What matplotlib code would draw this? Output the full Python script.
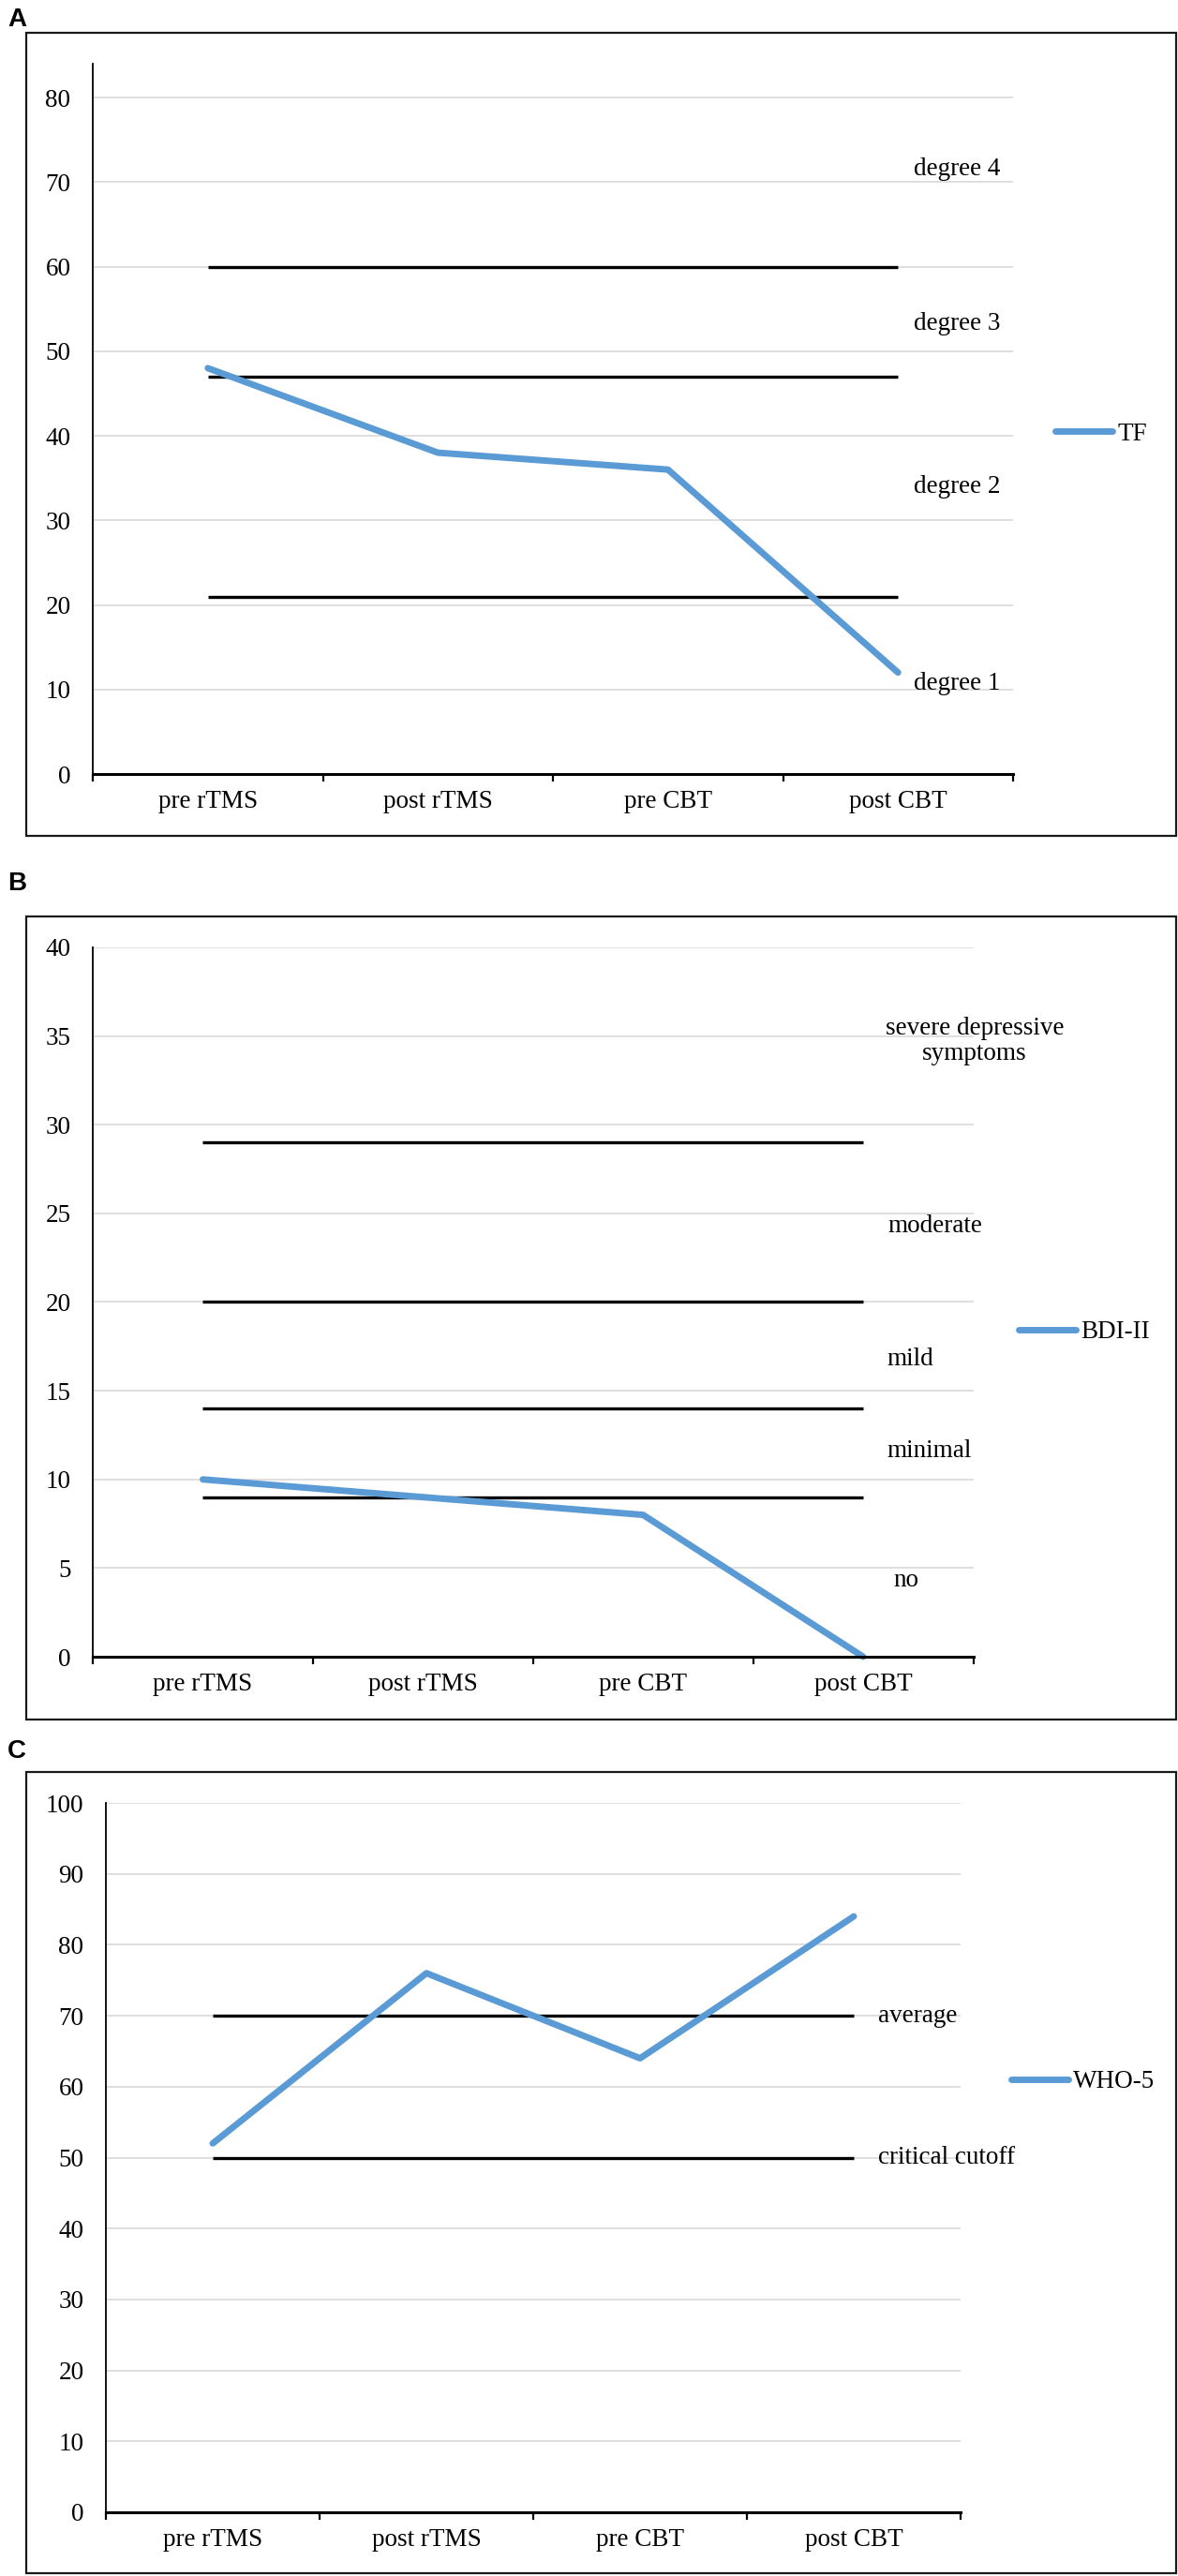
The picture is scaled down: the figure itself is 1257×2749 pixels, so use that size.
import numpy as np
import matplotlib
matplotlib.use("Agg")
import matplotlib.pyplot as plt
from matplotlib.patches import Rectangle

# ---------------- data ----------------
categories = ["pre rTMS", "post rTMS", "pre CBT", "post CBT"]

tf_values = [48, 38, 36, 12]
tf_thresholds = [60, 47, 21]
tf_band_labels = ["degree 4", "degree 3", "degree 2", "degree 1"]
tf_band_label_y = [71.5, 53.3, 34, 10.7]
tf_yticks = [0, 10, 20, 30, 40, 50, 60, 70, 80]

bdi_values = [10, 9, 8, 0]
bdi_thresholds = [29, 20, 14, 9]
bdi_band_labels = ["severe depressive\nsymptoms", "moderate", "mild", "minimal", "no"]
bdi_band_label_y = [34.7, 24.3, 16.8, 11.6, 4.3]
bdi_yticks = [0, 5, 10, 15, 20, 25, 30, 35, 40]

who_values = [52, 76, 64, 84]
who_thresholds = [70, 50]
who_band_labels = ["average", "critical cutoff"]
who_band_label_y = [70, 50]
who_yticks = [0, 10, 20, 30, 40, 50, 60, 70, 80, 90, 100]

# ---------------- style ----------------
W, H = 1257, 2749
DPI = 100
SERIF = ["Liberation Serif", "DejaVu Serif"]
FS = 19.5
BLUE = "#5b9bd5"
GRID = "#d9d9d9"

fig = plt.figure(figsize=(W / DPI, H / DPI), dpi=DPI)


def fx(px):
    return px / W


def fy(py):
    return 1 - py / H


def panel(letter, letter_top, box, axrect, ylim, yticks, values, thresholds,
          band_labels, band_y, label_specs, legend_name, legend_xy):
    # outer frame
    bx0, by0, bx1, by1 = box
    fig.patches.append(Rectangle((fx(bx0), fy(by1)), fx(bx1) - fx(bx0), fy(by0) - fy(by1),
                                 transform=fig.transFigure, fill=False,
                                 edgecolor="#1a1a1a", linewidth=1.6, zorder=0))
    fig.text(fx(8), fy(letter_top), letter, ha="left", va="top",
             fontsize=20, fontweight="bold", family=["Liberation Sans", "DejaVu Sans"])

    l, r, t, b = axrect
    ax = fig.add_axes([fx(l), fy(b), fx(r) - fx(l), fy(t) - fy(b)])
    x = np.arange(len(categories))
    ax.set_xlim(x[0] - 0.5, x[-1] + 0.5)
    ax.set_ylim(*ylim)

    ax.set_yticks(yticks)
    ax.set_yticklabels([str(v) for v in yticks], family=SERIF, fontsize=FS)
    ax.tick_params(axis="y", length=0, pad=17)
    ax.yaxis.grid(True, color=GRID, linewidth=1.2)
    ax.set_axisbelow(True)

    ax.set_xticks(np.append(x, x[-1] + 1) - 0.5)
    ax.set_xticklabels([])
    ax.set_xticks(x, minor=True)
    ax.set_xticklabels(categories, minor=True, family=SERIF, fontsize=FS)
    ax.tick_params(axis="x", which="major", length=6, width=1.6, direction="out", color="black")
    ax.tick_params(axis="x", which="minor", length=0, pad=12)

    for s in ["top", "right"]:
        ax.spines[s].set_visible(False)
    ax.spines["left"].set_linewidth(1.3)
    ax.spines["bottom"].set_linewidth(2.2)
    ax.spines["bottom"].set_zorder(5)

    ax.hlines(thresholds, x[0], x[-1], colors="black", linewidth=2.4, zorder=3)
    ax.plot(x, values, color=BLUE, linewidth=5, solid_capstyle="round",
            solid_joinstyle="round", label=legend_name, zorder=4, clip_on=False)

    for txt, yv, (lx, ha) in zip(band_labels, band_y, label_specs):
        xd = (lx - l) / (r - l) * (len(categories)) - 0.5
        ax.text(xd, yv, txt, ha=ha, va="center", family=SERIF, fontsize=FS,
                multialignment="center", linespacing=1.12, zorder=6)

    leg = ax.legend(loc="center left", bbox_to_anchor=(fx(legend_xy[0]), fy(legend_xy[1])),
                    bbox_transform=fig.transFigure, frameon=False, borderpad=0,
                    borderaxespad=0, handlelength=2.25, handletextpad=0.2,
                    prop={"family": SERIF, "size": FS})
    for h in leg.get_lines():
        h.set_linewidth(5)
        h.set_solid_capstyle("round")
    return ax


# Panel A
panel("A", 8, (28, 35, 1255, 892), (99, 1081, 68, 826), (0, 84), tf_yticks, tf_values,
      tf_thresholds, tf_band_labels, tf_band_label_y,
      [(975, "left")] * 4, "TF", (1126, 463))

# Panel B
panel("B", 930, (28, 978, 1255, 1835), (99, 1038.5, 1011, 1768), (0, 40), bdi_yticks,
      bdi_values, bdi_thresholds, bdi_band_labels, bdi_band_label_y,
      [(1040, "center"), (947, "left"), (946, "left"), (946, "left"), (953, "left")],
      "BDI-II", (1087, 1422))

# Panel C
panel("C", 1856, (28, 1891, 1255, 2746), (113, 1025, 1924, 2681), (0, 100), who_yticks,
      who_values, who_thresholds, who_band_labels, who_band_label_y,
      [(937, "left")] * 2, "WHO-5", (1079, 2222))

fig.savefig("out.png", dpi=DPI, facecolor="white")
